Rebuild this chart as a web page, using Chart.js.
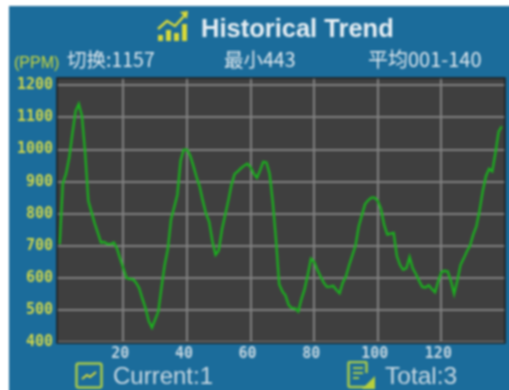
<!DOCTYPE html>
<html><head><meta charset="utf-8">
<script src="https://cdn.jsdelivr.net/npm/chart.js@4/dist/chart.umd.min.js"></script>
<style>
html,body{margin:0;padding:0;background:#fff;width:509px;height:390px;overflow:hidden}
#wrap{position:absolute;left:0;top:0;width:509px;height:390px;filter:blur(1px)}
#panel{position:absolute;left:9px;top:6px;width:510px;height:394px;background:#1b6c9b}
canvas{position:absolute;left:0;top:0}
.t{position:absolute;white-space:nowrap;line-height:1;color:#dfe8ee}
svg{position:absolute}
</style></head><body>
<div id="wrap">
<div id="panel"></div>
<canvas id="c" width="509" height="390"></canvas>
<svg style="left:155px;top:10px" width="34" height="32" viewBox="0 0 34 32" fill="none">
<g fill="#d7d83a"><rect x="3" y="25" width="5" height="6"/><rect x="11" y="20" width="5" height="11"/><rect x="19" y="23" width="5" height="8"/><rect x="27" y="14" width="5" height="17"/></g>
<path d="M3 19 L12 11 L20 16 L30 5" stroke="#d7d83a" stroke-width="2.5"/><path d="M25 2 L33 1 L32 9 Z" fill="#d7d83a"/></svg>
<span class="t" style="left:201px;top:14px;font:bold 25.500px 'Liberation Sans';color:#e6eef3">Historical Trend</span>
<span class="t" style="left:14px;top:54px;font:16px 'Liberation Sans';color:#c9d83c" id="unit">(PPM)</span>
<span class="t" style="left:67px;top:44px;font:19.500px 'Noto Sans CJK SC','Liberation Sans'">切换:1157</span>
<span class="t" style="left:224px;top:44px;font:19.500px 'Noto Sans CJK SC','Liberation Sans'">最小443</span>
<span class="t" style="left:368px;top:44px;font:20px 'Noto Sans CJK SC','Liberation Sans'">平均001-140</span>
<svg style="left:75px;top:362px" width="28" height="27" viewBox="0 0 28 27" fill="none">
<rect x="1.5" y="1.5" width="25" height="24" rx="2" stroke="#a8c94a" stroke-width="2.5"/>
<path d="M7 17 L12 13 L15 15 L21 10" stroke="#d7d83a" stroke-width="2"/></svg>
<span class="t" style="left:113px;top:362px;font:24px 'Liberation Sans';color:#c9d9e3">Current:1</span>
<svg style="left:347px;top:361px" width="29" height="29" viewBox="0 0 29 29" fill="none">
<path d="M19 26 H3 a1.500 1.500 0 0 1 -1.500 -1.500 V2.500 a1.500 1.500 0 0 1 1.500 -1.500 H18 a1.500 1.500 0 0 1 1.500 1.500 V12" stroke="#a8c94a" stroke-width="2.500"/>
<path d="M6 7 H16 M6 12 H16 M6 17 H12" stroke="#a8c94a" stroke-width="2"/>
<path d="M28 28 H15 L28 15 Z" fill="#b7cf3c"/></svg>
<span class="t" style="left:385px;top:362px;font:24.500px 'Liberation Sans';color:#c9d9e3">Total:3</span>
</div>
<script>
const readings = [
705,895,925,975,1050,1120,1142,1105,990,840,
805,770,740,710,712,705,705,710,692,660,
630,600,596,596,585,568,535,505,465,445,
470,495,570,640,690,782,820,860,965,1000,
1000,982,950,915,885,840,800,775,715,672,
685,750,795,840,890,924,932,942,950,956,
945,925,912,935,962,960,925,835,720,580,
558,545,515,506,505,495,534,565,610,660,
650,625,605,585,572,573,575,562,552,585,
605,640,670,700,760,795,830,842,850,850,
840,815,765,735,738,740,668,640,625,630,
665,630,612,590,572,570,577,565,555,590,
618,622,620,590,550,590,640,660,682,700,
735,760,810,870,917,940,932,990,1056,1072];
const sampleIndex = readings.map((_, i) => i);
const xTicks = [20,40,60,80,100,120];
const yTicks = [400,500,600,700,800,900,1000,1100,1200];

const plotBg = {
  id:'plotBg',
  beforeDraw(ch){
    const a = ch.chartArea, g = ch.ctx;
    g.save();
    g.fillStyle = '#3f3f3f';
    g.fillRect(a.left, a.top, a.width, a.height);
    g.restore();
  },
  afterDraw(ch){
    const a = ch.chartArea, g = ch.ctx;
    g.save();
    g.strokeStyle = '#1c1c1c';
    g.lineWidth = 1.500;
    g.strokeRect(a.left, a.top, a.width, a.height);
    g.restore();
  }
};

new Chart(document.getElementById('c'), {
  type:'line',
  data:{ labels: sampleIndex,
    datasets:[{ data: sampleIndex.map(i => ({x:i, y:readings[i]})),
      borderColor:'#1bb01e', borderWidth:2.300, pointRadius:0, tension:0, fill:false }]},
  plugins:[plotBg],
  options:{
    responsive:false, animation:false, devicePixelRatio:1,
    layout:{padding:{top:78,right:4,left:0,bottom:0}},
    plugins:{legend:{display:false},title:{display:false},tooltip:{enabled:false}},
    scales:{
      x:{ type:'linear', min:-0.85, max:140,
        afterFit(s){s.height=47},
        afterBuildTicks(s){s.ticks = xTicks.map(v=>({value:v}))},
        grid:{color:'#808080',lineWidth:2,drawTicks:false},
        border:{display:false},
        ticks:{color:'#c5d6e0',maxRotation:0,autoSkip:false,padding:2,labelOffset:-3,
          callback:v=>String(v),
          font:{family:'DejaVu Sans Mono',size:15,weight:'bold'}}
      },
      y:{ min:397, max:1223,
        afterFit(s){s.width=57},
        afterBuildTicks(s){s.ticks = yTicks.map(v=>({value:v}))},
        grid:{color:'#808080',lineWidth:2,drawTicks:false},
        border:{display:false},
        ticks:{color:'#cfd64a',autoSkip:false,padding:4,
          callback:v=>String(v),
          font:{family:'DejaVu Sans Mono',size:15,weight:'bold'}}
      }
    }
  }
});
</script>
</body></html>
